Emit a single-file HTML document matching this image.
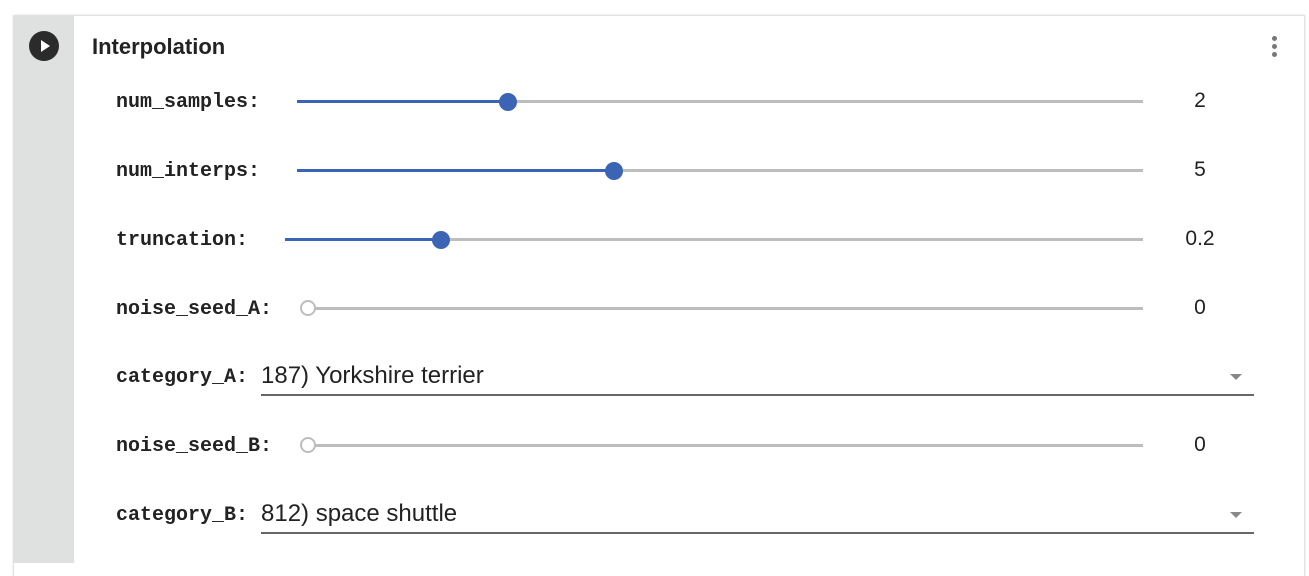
<!DOCTYPE html>
<html><head><meta charset="utf-8"><style>
body{margin:0;width:1309px;height:574px;background:#fff;position:relative;overflow:hidden;font-family:"Liberation Sans",sans-serif}
.card{position:absolute;left:13px;top:15px;width:1290px;height:560px;border:1px solid #e2e2e2;border-bottom:none;box-shadow:0 0 2px #ddd;background:#fff}
.side{position:absolute;left:13px;top:16px;width:61px;height:547px;background:#dfe0e0}
.play{position:absolute;left:29px;top:31px;width:30px;height:30px;border-radius:50%;background:#2b2b2b}
.play:after{content:"";position:absolute;left:12px;top:9px;border-left:9px solid #fff;border-top:6px solid transparent;border-bottom:6px solid transparent}
.title{position:absolute;left:92px;top:34px;font-size:22px;font-weight:bold;color:#222}
.dots{position:absolute;left:1272px;top:36px;width:5px}
.dots i{display:block;width:5px;height:5px;border-radius:50%;background:#777;margin-bottom:3px}
.lbl{position:absolute;left:116px;font-family:"Liberation Mono",monospace;font-weight:bold;font-size:20px;color:#222;line-height:20px;margin-top:2px}
.track{position:absolute;height:3px;background:#bdbdbd}
.fill{position:absolute;height:3px;background:#3c64b4}
.thumb{position:absolute;width:18px;height:18px;border-radius:50%;background:#3c64b4}
.hthumb{position:absolute;width:12px;height:12px;border-radius:50%;border:2px solid #bdbdbd;background:#fff}
.val{position:absolute;width:60px;left:1170px;text-align:center;font-size:21px;color:#222;line-height:22px}
.dd{position:absolute;left:261px;width:993px;height:37px;border-bottom:2px solid #666;font-size:24px;color:#222;line-height:24px}
.dd span.a{position:absolute;right:12px;top:17px;border-top:6px solid #888;border-left:6px solid transparent;border-right:6px solid transparent}
</style></head><body>
<div class="card"></div>
<div class="side"></div>
<div class="play"></div>
<div class="title">Interpolation</div>
<div class="dots"><i></i><i></i><i></i></div>

<div class="lbl" style="top:91px">num_samples:</div>
<div class="track" style="left:297px;top:100px;width:846px"></div>
<div class="fill" style="left:297px;top:100px;width:211px"></div>
<div class="thumb" style="left:499px;top:93px"></div>
<div class="val" style="top:90px">2</div>

<div class="lbl" style="top:160px">num_interps:</div>
<div class="track" style="left:297px;top:169px;width:846px"></div>
<div class="fill" style="left:297px;top:169px;width:317px"></div>
<div class="thumb" style="left:605px;top:162px"></div>
<div class="val" style="top:159px">5</div>

<div class="lbl" style="top:229px">truncation:</div>
<div class="track" style="left:285px;top:238px;width:858px"></div>
<div class="fill" style="left:285px;top:238px;width:156px"></div>
<div class="thumb" style="left:432px;top:231px"></div>
<div class="val" style="top:228px">0.2</div>

<div class="lbl" style="top:298px">noise_seed_A:</div>
<div class="track" style="left:308px;top:307px;width:835px"></div>
<div class="hthumb" style="left:300px;top:300px"></div>
<div class="val" style="top:297px">0</div>

<div class="lbl" style="top:366px">category_A:</div>
<div class="dd" style="top:357px"><span style="position:absolute;left:0;top:7px">187) Yorkshire terrier</span><span class="a"></span></div>

<div class="lbl" style="top:435px">noise_seed_B:</div>
<div class="track" style="left:308px;top:444px;width:835px"></div>
<div class="hthumb" style="left:300px;top:437px"></div>
<div class="val" style="top:434px">0</div>

<div class="lbl" style="top:504px">category_B:</div>
<div class="dd" style="top:495px"><span style="position:absolute;left:0;top:7px">812) space shuttle</span><span class="a"></span></div>
</body></html>
